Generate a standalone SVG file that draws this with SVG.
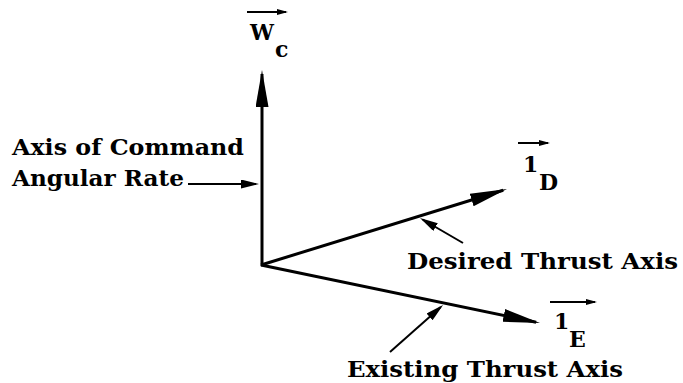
<svg xmlns="http://www.w3.org/2000/svg" width="683" height="383" viewBox="0 0 683 383">
<style>
.t{font-family:"DejaVu Serif","Liberation Serif",serif;font-weight:bold;fill:#000;font-size:22px}
.ax{stroke:#000;stroke-width:3;fill:none}
.pt{stroke:#000;stroke-width:2;fill:none}
.ov{stroke:#000;stroke-width:2;fill:none}
</style>
<defs>
<marker id="big" markerUnits="userSpaceOnUse" markerWidth="40" markerHeight="14" refX="33" refY="6.5" orient="auto">
<path d="M0,0 L37,6.5 L0,13 Z" fill="#000"/>
</marker>
<marker id="small" markerUnits="userSpaceOnUse" markerWidth="20" markerHeight="10" refX="15" refY="4.5" orient="auto">
<path d="M0,0 L18,4.5 L0,9 Z" fill="#000"/>
</marker>
<marker id="over" markerUnits="userSpaceOnUse" markerWidth="12" markerHeight="7" refX="9" refY="3" orient="auto">
<path d="M0,0 L11,3 L0,6 Z" fill="#000"/>
</marker>
</defs>
<g id="connectors">
<path class="ax" d="M262,266 L262,74" marker-end="url(#big)"/>
<path class="ax" d="M261,265 L503.2,190.2" marker-end="url(#big)"/>
<path class="ax" d="M261,265 L536.1,322.2" marker-end="url(#big)"/>
<path class="pt" d="M188,184 L256,184" marker-end="url(#small)"/>
<path class="pt" d="M463,243 L422.6,219.5" marker-end="url(#small)"/>
<path class="pt" d="M390,352 L440.8,307" marker-end="url(#small)"/>
</g>
<g id="wc">
<path class="ov" d="M247,12 L286,12" marker-end="url(#over)"/>
<text class="t" x="250" y="40" font-size="24" textLength="24" lengthAdjust="spacingAndGlyphs">W</text>
<text class="t" x="275" y="57" font-size="20">c</text>
</g>
<g id="command-axis">
<text class="t" x="12" y="155" textLength="232" lengthAdjust="spacingAndGlyphs">Axis of Command</text>
<text class="t" x="12" y="186" textLength="172" lengthAdjust="spacingAndGlyphs">Angular Rate</text>
</g>
<g id="i-d">
<path class="ov" d="M518,143 L548,143" marker-end="url(#over)"/>
<text class="t" x="523" y="172" font-size="23">1</text>
<text class="t" x="539" y="190" font-size="21">D</text>
</g>
<g id="i-e">
<path class="ov" d="M550,302 L595,302" marker-end="url(#over)"/>
<text class="t" x="554" y="329" font-size="23">1</text>
<text class="t" x="569" y="347" font-size="21">E</text>
</g>
<g id="desired">
<text class="t" x="407" y="269" textLength="271" lengthAdjust="spacingAndGlyphs">Desired Thrust Axis</text>
</g>
<g id="existing">
<text class="t" x="347" y="377" textLength="276" lengthAdjust="spacingAndGlyphs">Existing Thrust Axis</text>
</g>
</svg>
